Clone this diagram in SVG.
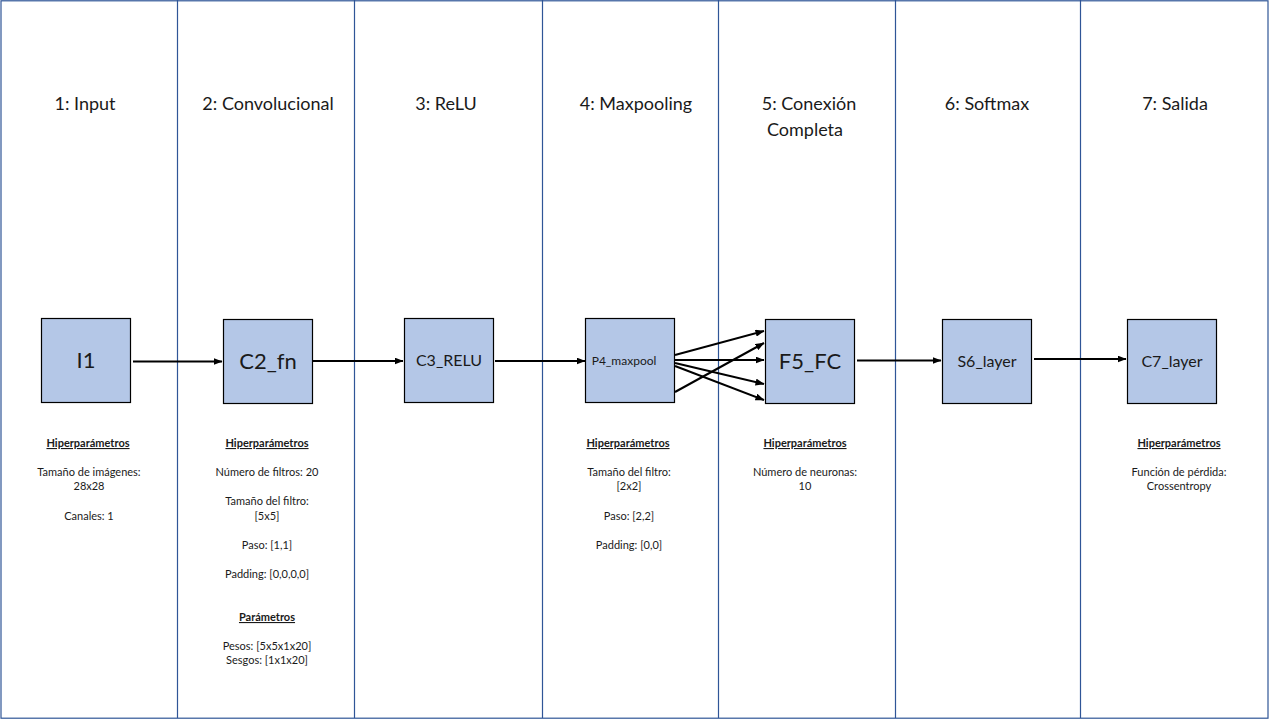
<svg xmlns="http://www.w3.org/2000/svg" width="1280" height="720" viewBox="0 0 1280 720">
<style>
.col{stroke:#2F5597;stroke-width:1.2;fill:none}
.box{fill:#B4C7E7;stroke:#000;stroke-width:1.2}
.hdr{font-family:Lato,"Liberation Sans",sans-serif;font-size:18px;fill:#1a1a1a;text-anchor:middle}
.lbl{font-family:Lato,"Liberation Sans",sans-serif;fill:#1a1a1a;text-anchor:middle}
.sm{font-family:Lato,"Liberation Sans",sans-serif;font-size:11px;fill:#1a1a1a;text-anchor:middle}
.b{font-weight:bold;text-decoration:underline}
.con{stroke:#000;stroke-width:2;fill:none;marker-end:url(#ah)}
</style>
<defs>
<marker id="ah" markerWidth="9" markerHeight="7" refX="8.5" refY="3.5" orient="auto" markerUnits="userSpaceOnUse">
<path d="M0,0 L9,3.5 L0,7 Z" fill="#000"/>
</marker>
</defs>
<rect x="0" y="0" width="1280" height="720" fill="#fff"/>
<g id="grid">
<rect x="1" y="0.8" width="1267" height="717.4" class="col" stroke-width="1.6"/>
<line x1="177.5" y1="0" x2="177.5" y2="718" class="col"/>
<line x1="354.5" y1="0" x2="354.5" y2="718" class="col"/>
<line x1="542.5" y1="0" x2="542.5" y2="718" class="col"/>
<line x1="718.5" y1="0" x2="718.5" y2="718" class="col" stroke-width="2"/>
<line x1="895.5" y1="0" x2="895.5" y2="718" class="col"/>
<line x1="1080.5" y1="0" x2="1080.5" y2="718" class="col"/>
</g>
<g id="headers">
<text class="hdr" x="85" y="110">1: Input</text>
<text class="hdr" x="268" y="110">2: Convolucional</text>
<text class="hdr" x="446" y="110">3: ReLU</text>
<text class="hdr" x="636" y="110">4: Maxpooling</text>
<text class="hdr" x="809" y="110">5: Conexión</text>
<text class="hdr" x="805" y="136">Completa</text>
<text class="hdr" x="987" y="110">6: Softmax</text>
<text class="hdr" x="1175" y="110">7: Salida</text>
</g>
<g id="connectors">
<line class="con" x1="133" y1="361.5" x2="222" y2="361.5"/>
<line class="con" x1="313" y1="361" x2="403" y2="361"/>
<line class="con" x1="495" y1="361" x2="585" y2="361"/>
<line class="con" x1="675" y1="355" x2="764" y2="331"/>
<line class="con" x1="675" y1="360" x2="764" y2="360"/>
<line class="con" x1="675" y1="363" x2="764" y2="384"/>
<line class="con" x1="675" y1="366" x2="764" y2="400"/>
<line class="con" x1="675" y1="392" x2="764" y2="343"/>
<line class="con" x1="857" y1="360.5" x2="941" y2="360.5"/>
<line class="con" x1="1034" y1="359" x2="1126" y2="359"/>
</g>
<g id="I1">
<rect class="box" x="41.5" y="318.5" width="89" height="84"/>
<text class="lbl" x="86" y="368" font-size="22">I1</text>
</g>
<g id="C2_fn">
<rect class="box" x="223.5" y="319.5" width="89" height="84"/>
<text class="lbl" x="268" y="369" font-size="22">C2_fn</text>
</g>
<g id="C3_RELU">
<rect class="box" x="404.5" y="318.5" width="89" height="84"/>
<text class="lbl" x="449" y="366" font-size="16">C3_RELU</text>
</g>
<g id="P4_maxpool">
<rect class="box" x="585.5" y="318.5" width="89" height="84"/>
<text class="lbl" x="624" y="365" font-size="12">P4_maxpool</text>
</g>
<g id="F5_FC">
<rect class="box" x="765.5" y="319.5" width="89" height="84"/>
<text class="lbl" x="810" y="369" font-size="22">F5_FC</text>
</g>
<g id="S6_layer">
<rect class="box" x="942.5" y="319.5" width="89" height="84"/>
<text class="lbl" x="987" y="367" font-size="16">S6_layer</text>
</g>
<g id="C7_layer">
<rect class="box" x="1127.5" y="319.5" width="89" height="84"/>
<text class="lbl" x="1172" y="367" font-size="16">C7_layer</text>
</g>
<g id="params1">
<text class="sm b" x="88" y="447">Hiperparámetros</text>
<text class="sm" x="89" y="476">Tamaño de imágenes:</text>
<text class="sm" x="89" y="490">28x28</text>
<text class="sm" x="89" y="520">Canales: 1</text>
</g>
<g id="params2">
<text class="sm b" x="267" y="447">Hiperparámetros</text>
<text class="sm" x="267" y="476">Número de filtros: 20</text>
<text class="sm" x="267" y="505">Tamaño del filtro:</text>
<text class="sm" x="267" y="520">[5x5]</text>
<text class="sm" x="267" y="549">Paso: [1,1]</text>
<text class="sm" x="267" y="578">Padding: [0,0,0,0]</text>
<text class="sm b" x="267" y="621">Parámetros</text>
<text class="sm" x="267" y="650">Pesos: [5x5x1x20]</text>
<text class="sm" x="267" y="664">Sesgos: [1x1x20]</text>
</g>
<g id="params4">
<text class="sm b" x="628" y="447">Hiperparámetros</text>
<text class="sm" x="629" y="476">Tamaño del filtro:</text>
<text class="sm" x="629" y="490">[2x2]</text>
<text class="sm" x="629" y="520">Paso: [2,2]</text>
<text class="sm" x="629" y="549">Padding: [0,0]</text>
</g>
<g id="params5">
<text class="sm b" x="805" y="447">Hiperparámetros</text>
<text class="sm" x="805" y="476">Número de neuronas:</text>
<text class="sm" x="805" y="490">10</text>
</g>
<g id="params7">
<text class="sm b" x="1179" y="447">Hiperparámetros</text>
<text class="sm" x="1179" y="476">Función de pérdida:</text>
<text class="sm" x="1179" y="490">Crossentropy</text>
</g>
</svg>
